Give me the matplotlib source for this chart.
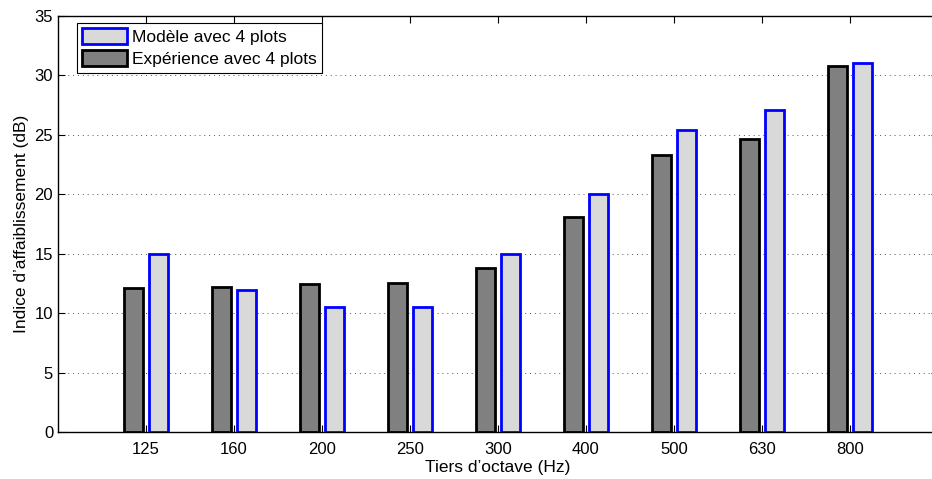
import matplotlib
matplotlib.use("Agg")
import matplotlib.pyplot as plt
import numpy as np

plt.rcParams['font.family'] = ['Liberation Sans', 'DejaVu Sans']

categories = ['125', '160', '200', '250', '300', '400', '500', '630', '800']
experience = [12.1, 12.25, 12.5, 12.55, 13.85, 18.1, 23.35, 24.65, 30.8]
modele = [15.0, 11.95, 10.5, 10.55, 15.0, 20.0, 25.45, 27.1, 31.05]

W, H = 932, 479
fig = plt.figure(figsize=(W / 100, H / 100), dpi=100)
left, right_px, top, bottom = 58, 938, 16, 432.3
ax = fig.add_axes([left / W, 1 - bottom / H, (right_px - left) / W, (bottom - top) / H])

x = np.arange(1, len(categories) + 1)
bw = 0.215
off = 0.14
b_exp = ax.bar(x - off, experience, bw, color='#808080', edgecolor='black', linewidth=2.0,
               label='Expérience avec 4 plots', zorder=3)
b_mod = ax.bar(x + off, modele, bw, color='#d9d9d9', edgecolor='#0000ff', linewidth=2.0,
               label='Modèle avec 4 plots', zorder=3)

ax.set_xlim(0, 10)
ax.set_ylim(0, 35)
ax.set_xticks(x)
ax.set_xticklabels(categories)
ax.set_yticks(np.arange(0, 36, 5))
ax.tick_params(direction='in', top=True, right=True, labelsize=12, length=5, width=0.8)
ax.tick_params(axis='x', pad=7)
ax.yaxis.grid(True, linestyle=(0, (1, 4)), color='#555555', linewidth=0.7, zorder=0)
ax.set_axisbelow(True)
for s in ax.spines.values():
    s.set_linewidth(1.0)
    s.set_color('black')

ax.set_xlabel("Tiers d’octave (Hz)", fontsize=12.5, labelpad=2)
ax.set_ylabel("Indice d’affaiblissement (dB)", fontsize=12.5, labelpad=4)

leg = ax.legend(handles=[b_mod, b_exp], loc='upper left',
                bbox_to_anchor=(77 / W, 1 - 23 / H), bbox_transform=fig.transFigure,
                borderaxespad=0, fancybox=False, framealpha=1, edgecolor='black',
                fontsize=12.5, handlelength=2.6, handleheight=1.05, handletextpad=0.25,
                borderpad=0.3, labelspacing=0.3)
leg.get_frame().set_linewidth(0.8)

fig.savefig('out.png', dpi=100)
